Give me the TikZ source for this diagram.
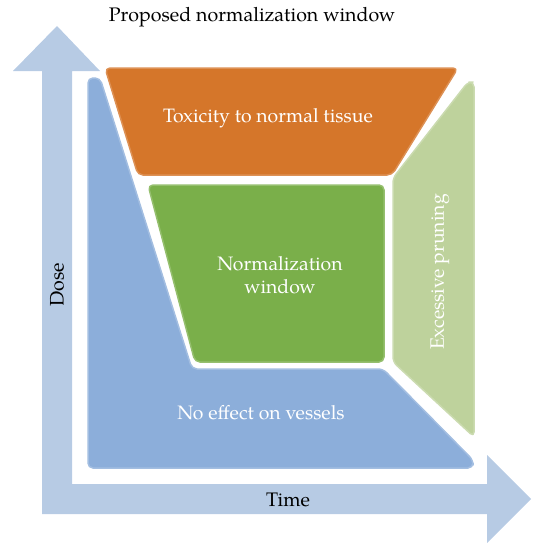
\documentclass[tikz,border=0pt]{standalone}
\usepackage{fontspec}
\setmainfont{TeX Gyre Pagella}
\definecolor{axisblue}{HTML}{B7CBE4}
\definecolor{regblue}{HTML}{8CAEDA}
\definecolor{regorange}{HTML}{D5762A}
\definecolor{reggreen}{HTML}{7AAF4A}
\definecolor{reglight}{HTML}{BED29C}
\tikzset{
  region/.style={rounded corners=5pt, line width=1.5pt, line join=round},
  intext/.style={text=white, font=\fontsize{19.4}{23.5}\selectfont, align=center},
  outtext/.style={text=black, font=\fontsize{19.6}{23.5}\selectfont}
}
\begin{document}
\begin{tikzpicture}[x=1pt, y=-1pt]
\useasboundingbox (0,0) rectangle (533,543);
% axes arrow
\fill[axisblue] (42,71) -- (13,71) -- (57,26) -- (100,71) -- (72,71) -- (72,484)
  -- (487,484) -- (487,455) -- (531,499) -- (487,543) -- (487,514) -- (42,514) -- cycle;
% regions
\filldraw[region, fill=regblue, draw=regblue!80!white]
  (88,78) -- (100,78) -- (192,369) -- (383,369) -- (473,460) -- (473,468) -- (88,468) -- cycle;
\filldraw[region, fill=regorange, draw=regorange!80!white]
  (105,68) -- (458,68) -- (392,175) -- (138,175) -- cycle;
\filldraw[region, fill=reggreen, draw=reggreen!80!white]
  (148,185) -- (384,185) -- (384,362) -- (195,362) -- cycle;
\filldraw[region, fill=reglight, draw=reglight!80!white]
  (393,178) -- (468,82) -- (474,82) -- (474,437) -- (393,362) -- cycle;
% labels
\node[outtext] (title) at (252,17) {Proposed normalization window};
\node[intext] (tox) at (268,118) {Toxicity to normal tissue};
\node[intext] (norm) at (280,275) {Normalization\\window};
\node[intext] (noeff) at (261,413) {No effect on vessels};
\node[intext, rotate=90] (prune) at (440,272) {Excessive pruning};
\node[outtext, rotate=90] (dose) at (57,285) {Dose};
\node[outtext] (time) at (288,500) {Time};
\end{tikzpicture}
\end{document}
